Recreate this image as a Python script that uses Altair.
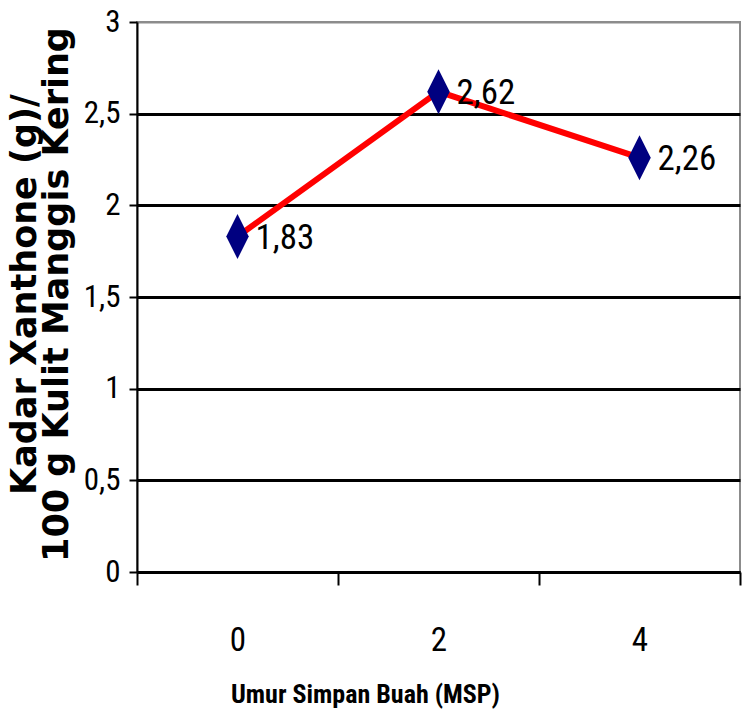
import altair as alt
import pandas as pd

# Storage age of the fruit (weeks after harvest) and xanthone content
umur = ["0", "2", "4"]
kadar = [1.83, 2.62, 2.26]

df = pd.DataFrame({"umur": umur, "kadar": kadar})

NARROW = "Roboto Condensed, DejaVu Sans Condensed, Liberation Sans, sans-serif"
WIDE_BOLD = "DejaVu Sans, Liberation Sans, sans-serif"

# tall, narrow diamond marker
diamond = "M0,-1L0.5,0L0,1L-0.5,0Z"

x_enc = alt.X(
    "umur:O",
    sort=umur,
    scale=alt.Scale(paddingInner=0, paddingOuter=0),
    axis=alt.Axis(
        title="Umur Simpan Buah (MSP)",
        labelAngle=0,
        tickBand="extent",
        domainColor="black",
        domainWidth=3,
        tickColor="black",
        tickWidth=2,
        tickSize=13,
        labelFont=NARROW,
        labelFontSize=33,
        labelColor="black",
        labelPadding=39,
        titleFont=NARROW,
        titleFontSize=26,
        titleFontWeight="bold",
        titleColor="black",
        titlePadding=24,
        titleX=228,
    ),
)

y_enc = alt.Y(
    "kadar:Q",
    scale=alt.Scale(domain=[0, 3], nice=False),
    axis=alt.Axis(
        title=["Kadar Xanthone (g)/", "100 g Kulit Manggis Kering"],
        values=[0, 0.5, 1, 1.5, 2, 2.5, 3],
        labelExpr="replace(toString(datum.value), '.', ',')",
        grid=True,
        gridColor={"condition": {"test": "datum.value === 3", "value": "#8c8c8c"}, "value": "black"},
        gridWidth={"condition": {"test": "datum.value === 3", "value": 2}, "value": 3},
        gridOpacity=1,
        domainColor="black",
        domainWidth=2,
        tickColor="black",
        tickWidth=2,
        tickSize=8,
        labelFont=NARROW,
        labelFontSize=31,
        labelColor="black",
        labelPadding=9,
        titleFont=WIDE_BOLD,
        titleFontSize=35,
        titleLineHeight=32,
        titleFontWeight="bold",
        titleColor="black",
        titleBaseline="bottom",
        titleX=-95,
        titleY=272,
    ),
)

base = alt.Chart(df).encode(x=x_enc, y=y_enc)

line = base.mark_line(color="red", strokeWidth=6)
points = base.mark_point(
    shape=diamond, size=2025, filled=True, fill="#000080", opacity=1, strokeWidth=0
)
labels = (
    base.transform_calculate(label="replace(format(datum.kadar, '.2f'), '.', ',')")
    .mark_text(align="left", baseline="middle", dx=18, dy=1, font=NARROW, fontSize=35, color="black")
    .encode(text="label:N")
)

chart = (
    alt.layer(line, points, labels)
    .properties(
        width=603,
        height=550,
        autosize=alt.AutoSizeParams(type="none"),
        padding={"left": 137, "top": 22, "right": 4, "bottom": 153},
        background="white",
    )
    .configure_view(stroke="#8c8c8c", strokeWidth=2)
)

chart.save("out.html", embed_options={"renderer": "svg", "actions": False})
